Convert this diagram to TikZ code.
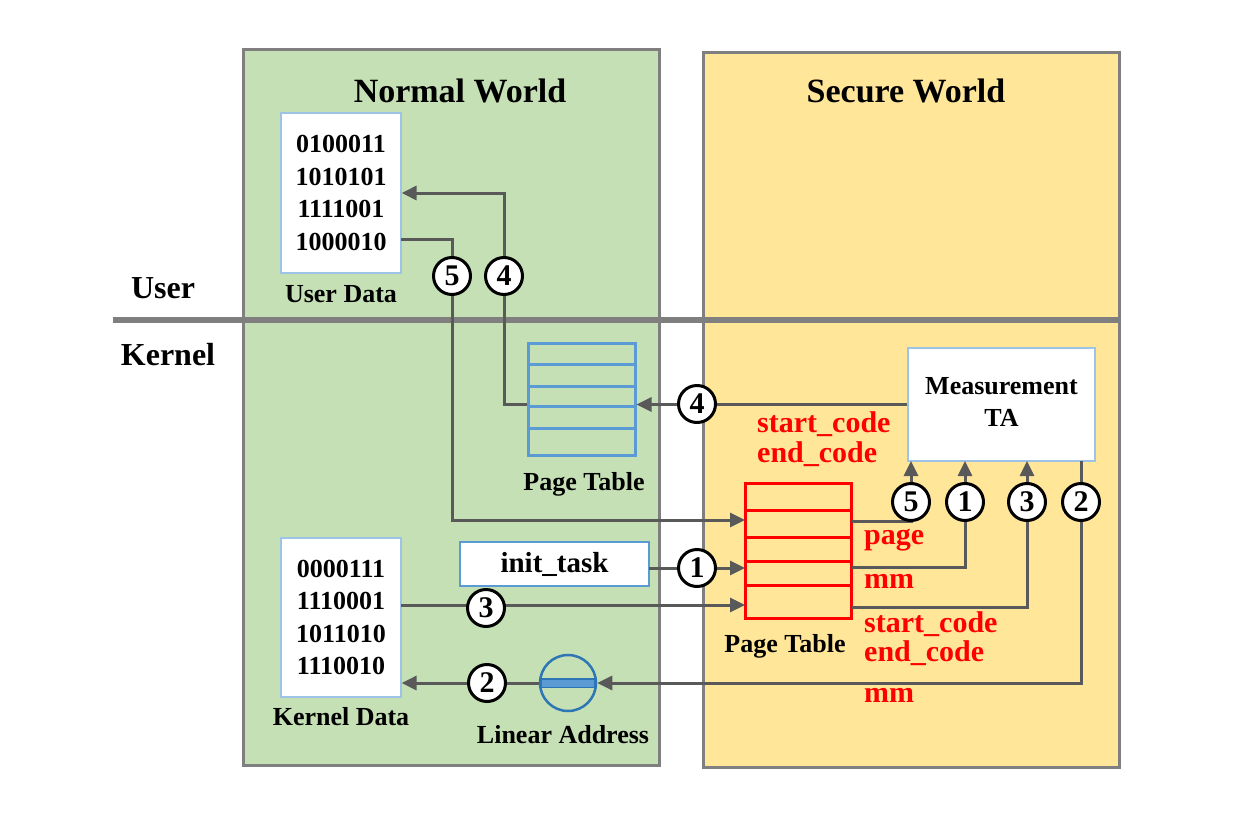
\documentclass[tikz,border=0pt]{standalone}
\usepackage{fontspec}
\setmainfont{Liberation Serif}
\usetikzlibrary{arrows.meta,calc}
\definecolor{gfill}{HTML}{C5E0B4}
\definecolor{yfill}{HTML}{FFE699}
\definecolor{bord}{HTML}{7F7F7F}
\definecolor{arr}{HTML}{595959}
\definecolor{lblue}{HTML}{9DC3E6}
\definecolor{mblue}{HTML}{5B9BD5}
\definecolor{dblue}{HTML}{2E75B6}
\begin{document}
\begin{tikzpicture}[x=1pt,y=-1pt,
  world/.style={draw=bord,line width=3pt,inner sep=0pt},
  title/.style={font=\fontsize{34}{36}\selectfont\bfseries,inner sep=0pt},
  side/.style={font=\fontsize{32}{34}\selectfont\bfseries,inner sep=0pt},
  num/.style={circle,draw=black,line width=3pt,fill=white,minimum size=37pt,inner sep=0pt,font=\fontsize{30}{30}\selectfont\bfseries},
  conn/.style={draw=arr,line width=3pt},
  arrow/.style={conn,-{Triangle[length=15pt,width=14pt]}},
  lbl/.style={font=\fontsize{26}{30}\selectfont\bfseries,inner sep=0pt},
  databox/.style={draw=lblue,line width=1.2pt,fill=white,minimum width=120pt,align=center,font=\fontsize{26}{32.5}\selectfont\bfseries,inner sep=0pt},
  redlbl/.style={font=\fontsize{30}{29.5}\selectfont\bfseries,text=red,inner sep=0pt,align=left,anchor=west},
  tablebox/.style={line width=3pt,inner sep=0pt},
]
\useasboundingbox (0,0) rectangle (1260,816);
\fill[white] (0,0) rectangle (1260,816);

% worlds
\node[world,fill=gfill,minimum width=416pt,minimum height=715pt] (nw) at (451,407.5) {};
\node[world,fill=yfill,minimum width=416pt,minimum height=714pt] (sw) at (911,410) {};
\node[title] (nwt) at (460,91) {Normal World};
\node[title] (swt) at (906,91) {Secure World};

% user / kernel divider
\coordinate (divl) at (113,320);
\coordinate (divr) at (1119,320);
\draw[bord,line width=6pt] (divl) -- (divr);
\node[side] (user) at (163,288) {User};
\node[side] (kernel) at (168,355) {Kernel};

% user data
\node[databox,minimum height=160pt] (ud) at (341,193) {0100011\\1010101\\1111001\\1000010};
\node[lbl] (udl) at (341,294) {User Data};

% blue page table
\node[tablebox,draw=mblue,minimum width=107pt,minimum height=112pt] (bpt) at (581.5,399) {};
\foreach \yy in {364,386,406,428} \draw[mblue,line width=3pt] (528,\yy) -- (635,\yy);
\node[lbl] (bptl) at (584,484) {Page Table};

% measurement TA
\node[draw=lblue,line width=1.5pt,fill=white,minimum width=187pt,minimum height=113pt,align=center,font=\fontsize{26}{32}\selectfont\bfseries,inner sep=0pt] (ta) at (1001.5,404.5) {};
\node[font=\fontsize{26}{32}\selectfont\bfseries,align=center,inner sep=0pt] (tatxt) at (1001.5,402) {Measurement\\TA};

\node[redlbl] (scl1) at (757,439) {start\_code\\end\_code};

% red page table
\node[tablebox,draw=red,minimum width=106pt,minimum height=135pt] (rpt) at (798,550.5) {};
\foreach \yy in {510,537,561,585} \draw[red,line width=3pt] (745,\yy) -- (851,\yy);
\node[lbl] (rptl) at (785,646) {Page Table};

% kernel data
\node[databox,minimum height=159pt] (kd) at (341,617.5) {0000111\\1110001\\1011010\\1110010};
\node[lbl] (kdl) at (341,717) {Kernel Data};

% init_task
\node[draw=mblue,line width=1.5pt,fill=white,minimum width=189pt,minimum height=44pt,inner sep=0pt,font=\fontsize{29}{30}\selectfont\bfseries] (it) at (554.5,564) {init\_task};

% linear address
\node[circle,draw=dblue,line width=2.5pt,minimum size=56pt,inner sep=0pt] (la) at (568,683) {};
\fill[mblue,draw=dblue,line width=1.2pt] (541,679) rectangle (595,687.5);
\node[lbl] (lal) at (563,735) {Linear Address};

% red labels
\node[redlbl] (lpage) at (864,540) {page};
\node[redlbl] (lmm1) at (864,581) {mm};
\node[redlbl] (lsc2) at (864,638.5) {start\_code\\end\_code};
\node[redlbl] (lmm2) at (864,695) {mm};

% connectors
\coordinate (c4up) at (504,193);
\draw[arrow] (ta.west) -- (ta.west -| bpt.east);
\draw[arrow] (ta.west -| bpt.west) -| (c4up) -- (c4up -| ud.east);

\coordinate (u5) at (401,239);
\coordinate (r5) at (745,520);
\draw[arrow] (u5) -| (452,520) -- (r5);

\coordinate (it1) at (649,568);
\coordinate (r1) at (745,568);
\draw[arrow] (it1) -- (r1);

\coordinate (k3) at (401,605);
\coordinate (r3) at (745,605);
\draw[arrow] (k3) -- (r3);

\coordinate (o5) at (852,521);
\coordinate (o1) at (852,567);
\coordinate (o3) at (852,607);
\coordinate (t5) at (911,461);
\coordinate (t1) at (965,461);
\coordinate (t3) at (1027,461);
\coordinate (t2) at (1081,461);
\draw[arrow] (o5) -| (t5);
\draw[arrow] (o1) -| (t1);
\draw[arrow] (o3) -| (t3);
\draw[arrow] (t2) |- (la.east);
\draw[arrow] (la.west) -- (la.west -| kd.east);

% numbered circles
\node[num] (n4a) at (504,276) {4};
\node[num] (n5a) at (452,276) {5};
\node[num] (n4b) at (697,404) {4};
\node[num] (n1a) at (697,568) {1};
\node[num] (n3a) at (486,608) {3};
\node[num] (n2a) at (487,683) {2};
\node[num] (n5b) at (911,502) {5};
\node[num] (n1b) at (965,502) {1};
\node[num] (n3b) at (1027,502) {3};
\node[num] (n2b) at (1081,502) {2};
\end{tikzpicture}
\end{document}
